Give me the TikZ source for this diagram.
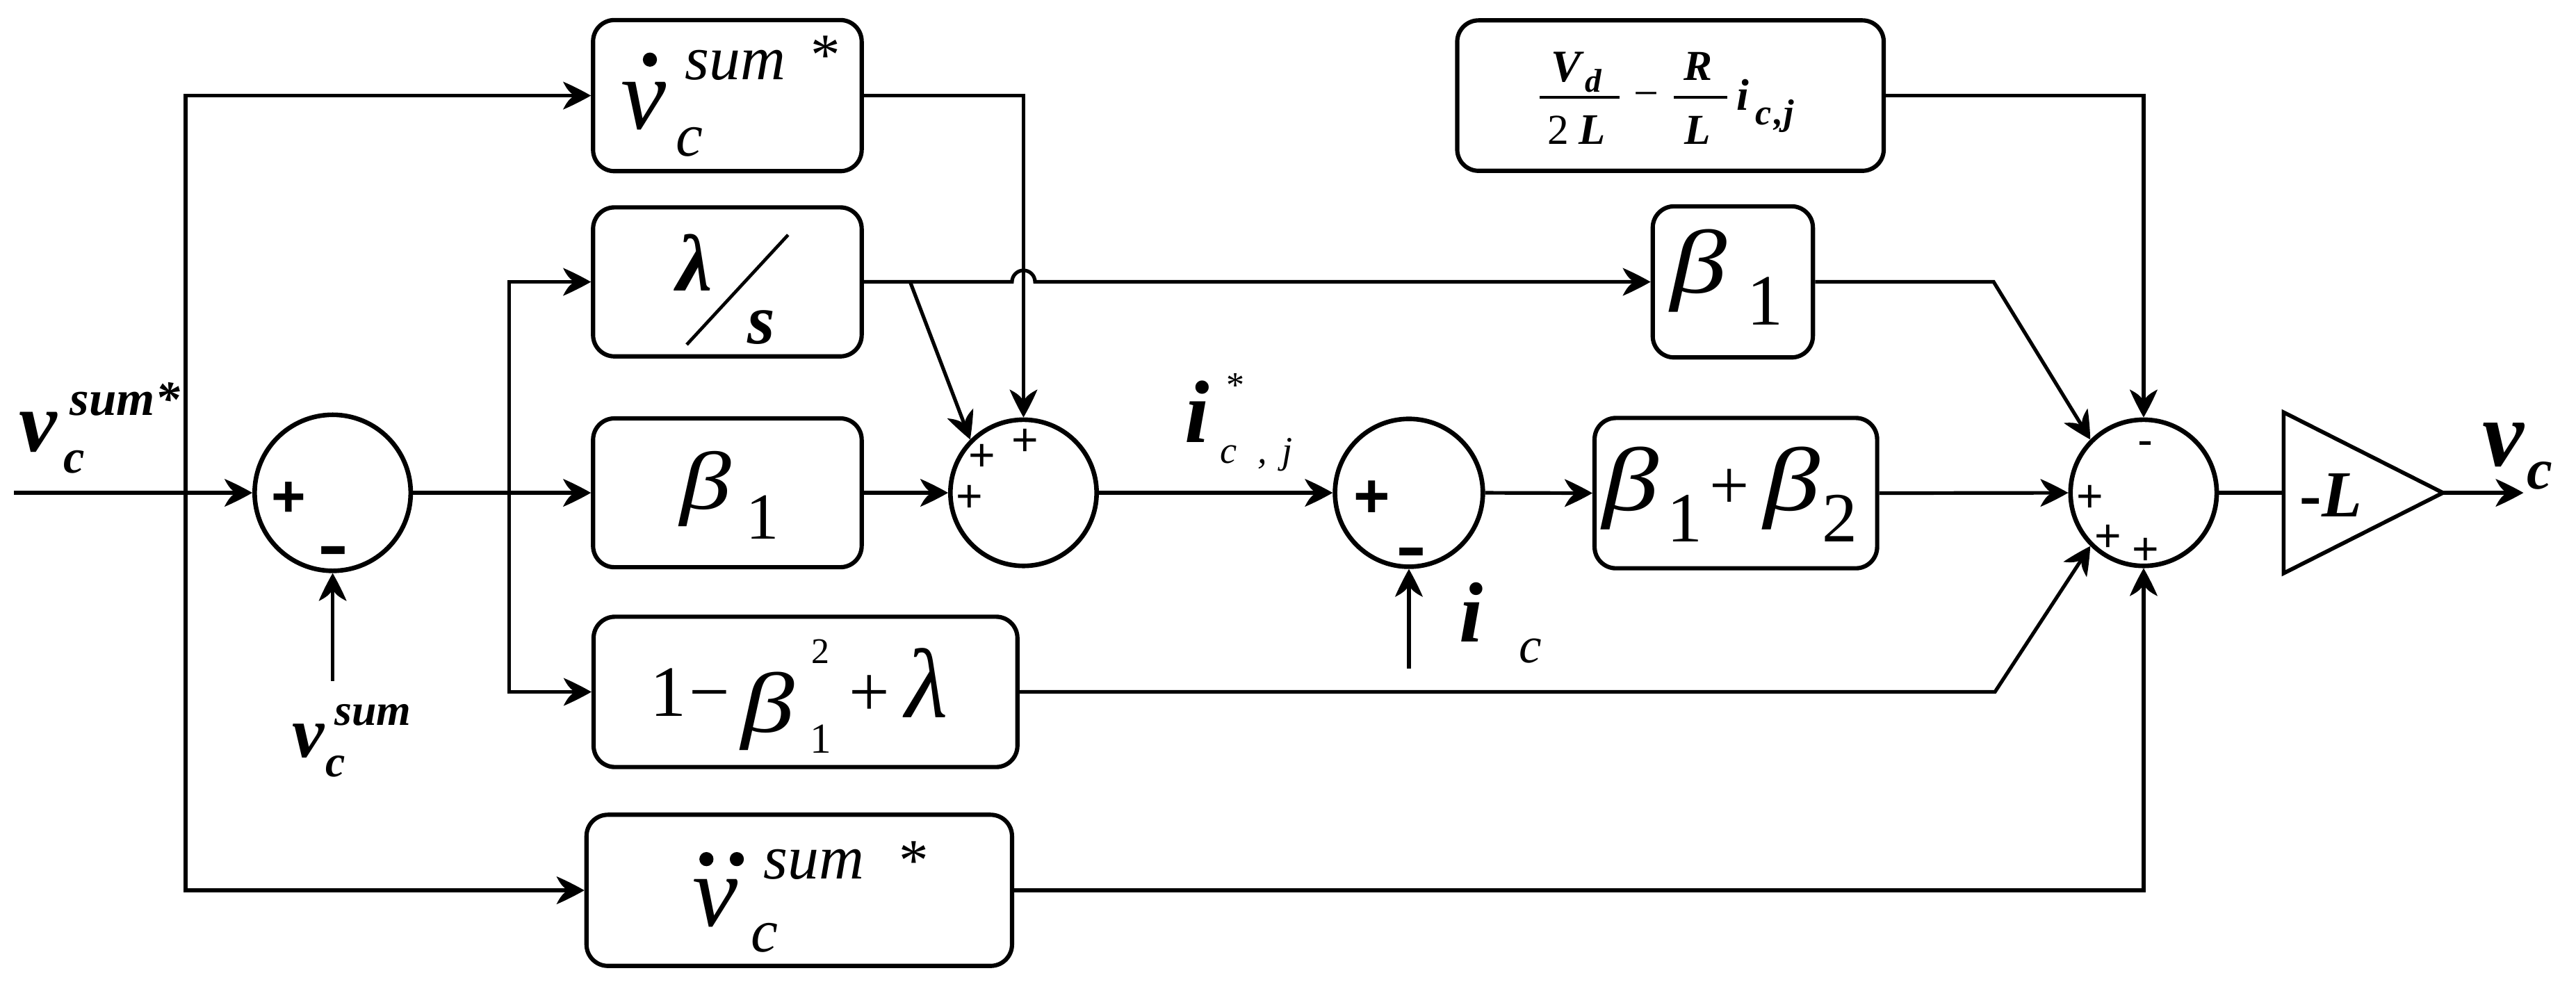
\documentclass[tikz,border=0pt]{standalone}
\usepackage{fontspec}
\usepackage{graphicx}
\setmainfont{Liberation Serif}
\newfontfamily\sansf{Liberation Sans}
\newcommand\FS[1]{\fontsize{#1}{#1}\selectfont}
\newcommand\BI{\bfseries\itshape}
\newcommand\IT{\itshape}
\newcommand\WB{\scalebox{1.25}[1]{β}}
\pgfdeclarearrow{
  name=Cusp,
  setup code={
    \pgfarrowssettipend{0pt}
    \pgfarrowssetbackend{-17pt}
    \pgfarrowssetlineend{-9pt}
  },
  drawing code={
    \pgfpathmoveto{\pgfpointorigin}
    \pgfpathcurveto{\pgfpoint{-6pt}{3.4pt}}{\pgfpoint{-12pt}{6.4pt}}{\pgfpoint{-17pt}{8.5pt}}
    \pgfpathcurveto{\pgfpoint{-15pt}{4.5pt}}{\pgfpoint{-12.5pt}{0.6pt}}{\pgfpoint{-9pt}{0pt}}
    \pgfpathcurveto{\pgfpoint{-12.5pt}{-0.6pt}}{\pgfpoint{-15pt}{-4.5pt}}{\pgfpoint{-17pt}{-8.5pt}}
    \pgfpathcurveto{\pgfpoint{-12pt}{-6.4pt}}{\pgfpoint{-6pt}{-3.4pt}}{\pgfpointorigin}
    \pgfpathclose
    \pgfusepathqfill
  }
}
\begin{document}
\begin{tikzpicture}[x=1pt,y=-1pt,line width=2.2pt,>=Cusp,
  blk/.style={draw,rounded corners=13pt,line width=2.6pt,inner sep=0pt},
  sumc/.style={draw,circle,line width=2.8pt,inner sep=0pt},
  txt/.style={inner sep=0pt,anchor=base west},
  sgn/.style={inner sep=0pt,anchor=base}]
\useasboundingbox (0,0) rectangle (1568,602);
% blocks
\node[blk,minimum width=163.5pt,minimum height=92pt] (bvd) at (442.75,58.2) {};
\node[blk,minimum width=163.5pt,minimum height=90.7pt] (bls) at (442.75,171.6) {};
\node[blk,minimum width=163.5pt,minimum height=90.6pt] (bb1) at (442.75,300) {};
\node[blk,minimum width=258pt,minimum height=91.5pt] (bob) at (490.3,421.2) {};
\node[blk,minimum width=259pt,minimum height=92pt] (bdd) at (486.5,542) {};
\node[blk,minimum width=259.6pt,minimum height=91.6pt] (bvl) at (1016.8,58.2) {};
\node[blk,minimum width=97.5pt,minimum height=92pt] (bbs) at (1054.75,171.6) {};
\node[blk,minimum width=172pt,minimum height=91.5pt] (bbb) at (1056.6,300.2) {};
% summing junctions
\node[sumc,minimum size=95pt] (c1) at (202.5,300) {};
\node[sumc,minimum size=89pt] (c2) at (623,300) {};
\node[sumc,minimum size=90pt] (c3) at (857.6,300) {};
\node[sumc,minimum size=89pt] (c4) at (1304.8,300) {};
% gain triangle
\draw[line width=2.4pt,line join=miter] (1390,251) -- (1487,300) -- (1390,349) -- cycle;
\coordinate (triL) at (1390,300);
\coordinate (triT) at (1487,300);
% free ends and bends
\coordinate (in) at (8.5,300);
\coordinate (j1) at (113,300);
\coordinate (vs) at (202.5,414.6);
\coordinate (j2) at (310,300);
\coordinate (ic) at (857.6,407);
\coordinate (out) at (1536,300);
\coordinate (k1) at (1213.5,171.6);
\coordinate (k2) at (1214.3,421.2);
\coordinate (js) at (554,171.6);
\coordinate (jp) at (616,171.6);
% connectors
\draw[->] (in) -- (c1.west);
\draw[->] (j1) |- (bvd.west);
\draw[->] (j1) |- (bdd.west);
\draw[->] (vs) -- (c1.south);
\draw[->] (c1.east) -- (bb1.west);
\draw[->] (j2) |- (bls.west);
\draw[->] (j2) |- (bob.west);
\draw[->] (bvd.east) -| (c2.north);
\draw[->] (bls.east) -- (jp) arc[start angle=180,end angle=0,radius=7pt] -- (bbs.west);
\draw[->] (js) -- (c2.135);
\draw[->] (bb1.east) -- (c2.west);
\draw[->] (c2.east) -- (c3.west);
\draw[->] (ic) -- (c3.south);
\draw[->] (c3.east) -- (bbb.west);
\draw[->] (bbb.east) -- (c4.west);
\draw[->] (bvl.east) -| (c4.north);
\draw[->] (bbs.east) -- (k1) -- (c4.135);
\draw[->] (bob.east) -- (k2) -- (c4.225);
\draw[->] (bdd.east) -| (c4.south);
\draw (c4.east) -- (triL);
\draw[->] (triT) -- (out);
% input label
\node[txt] (t1) at (10.4,275) {\FS{52}\BI v};
\node[txt] (t2) at (41.6,252.6) {\FS{30}\BI sum*};
\node[txt] (t3) at (37.7,288) {\FS{29}\BI c};
% feedback label
\node[txt] (t4) at (177,461) {\FS{44}\BI v};
\node[txt] (t5) at (202.7,441.4) {\FS{27}\BI sum};
\node[txt] (t6) at (197,472.6) {\FS{27}\BI c};
% vdot box
\node[txt] (t7) at (377,78.6) {\FS{62}\IT v};
\fill (395.6,36.3) circle[radius=4.3pt];
\node[txt] (t8) at (416,48.3) {\FS{38}\IT sum};
\node[txt] (t9) at (492.5,45.3) {\FS{36}*};
\node[txt] (t10) at (410.5,95) {\FS{37}\IT c};
% lambda/s box
\node[txt] (t11) at (410.7,177) {\FS{49}\BI λ};
\draw[line width=2pt] (418,209.8) -- (479.7,143);
\node[txt] (t12) at (454,209.4) {\FS{43}\BI s};
% beta1 middle
\node[txt] (t13) at (413,310) {\FS{50}\IT\WB};
\node[txt] (t14) at (453,328) {\FS{40}1};
% 1-beta^2+lambda
\node[txt] (t15) at (394.8,435.8) {\FS{44}1};
\node[txt] (t16) at (418.5,435.8) {\FS{44}−};
\node[txt] (t17) at (450,445.6) {\FS{52}\IT\WB};
\node[txt] (t18) at (493,404) {\FS{22}2};
\node[txt] (t19) at (492,458.6) {\FS{26}1};
\node[txt] (t20) at (515.7,436) {\FS{44}+};
\node[txt] (t21) at (550,436.7) {\FS{60}\IT λ};
% vddot box
\node[txt] (t22) at (420.6,563.6) {\FS{62}\IT v};
\fill (430,523) circle[radius=4.3pt];
\fill (448.5,523) circle[radius=4.3pt];
\node[txt] (t23) at (463.8,535) {\FS{38}\IT sum};
\node[txt] (t24) at (546,536) {\FS{36}*};
\node[txt] (t25) at (456,579.6) {\FS{37}\IT c};
% i*_{c,j}
\node[txt] (t26) at (720,269.4) {\FS{54}\BI i};
\node[txt] (t27) at (745.6,241.9) {\FS{22}*};
\node[txt] (t28) at (741.6,282) {\FS{23}\IT c};
\node[txt] (t29) at (764.6,282) {\FS{23}\IT ,};
\node[txt] (t30) at (779.4,282) {\FS{23}\IT j};
% i_c
\node[txt] (t31) at (887.3,390.7) {\FS{52}\BI i};
\node[txt] (t32) at (923.6,403.4) {\FS{31}\IT c};
% beta1 small
\node[txt] (t33) at (1016,178.4) {\FS{55}\IT\WB};
\node[txt] (t34) at (1062.5,197.7) {\FS{44}1};
% beta1+beta2
\node[txt] (t35) at (974.5,310.6) {\FS{55}\IT\WB};
\node[txt] (t36) at (1013.5,330) {\FS{43}1};
\node[txt] (t37) at (1039.5,310) {\FS{43}+};
\node[txt] (t38) at (1072.5,310.6) {\FS{55}\IT\WB};
\node[txt] (t39) at (1108,330) {\FS{43}2};
% Vd box
\node[txt] (t40) at (943,49.6) {\FS{27.5}\BI V};
\node[txt] (t41) at (963.7,56.2) {\FS{20}\BI d};
\draw[line width=1.6pt] (937.2,59.1) -- (985.8,59.1);
\node[txt] (t42) at (941,87.6) {\FS{26}2};
\node[txt] (t43) at (960,87.6) {\FS{26.5}\BI L};
\node[txt] (t44) at (993.5,65.9) {\FS{27}−};
\draw[line width=1.6pt] (1019,59.1) -- (1051.4,59.1);
\node[txt] (t45) at (1024,48.9) {\FS{26}\BI R};
\node[txt] (t46) at (1024.4,87.6) {\FS{26}\BI L};
\node[txt] (t47) at (1056,67) {\FS{27}\BI i};
\node[txt] (t48) at (1067.6,75.9) {\FS{22}\BI c};
\node[txt] (t49) at (1079,75.9) {\FS{22}\BI ,};
\node[txt] (t50) at (1084.6,75.9) {\FS{22}\BI j};
% gain
\node[txt] (t51) at (1398.8,314.4) {\FS{40}\bfseries -\textit{L}};
% output
\node[txt] (t52) at (1509.8,283.5) {\FS{57}\BI v};
\node[txt] (t53) at (1537,297.6) {\FS{35}\BI c};
% signs
\node[sgn] (s1) at (175.6,314.6) {\sansf\bfseries\FS{36}+};
\node[sgn] (s2) at (203,345.4) {\sansf\bfseries\FS{40}\scalebox{1.4}[1]{-}};
\node[sgn] (s3) at (835,315) {\sansf\bfseries\FS{38}+};
\node[sgn] (s4) at (859,346.4) {\sansf\bfseries\FS{40}\scalebox{1.4}[1]{-}};
\node[sgn] (s5) at (590.2,311.5) {\sansf\FS{28}+};
\node[sgn] (s6) at (597.7,286.8) {\sansf\FS{28}+};
\node[sgn] (s7) at (624,277.3) {\sansf\FS{28}+};
\node[sgn] (s8) at (1306,277.4) {\sansf\FS{28}-};
\node[sgn] (s9) at (1272,311.8) {\sansf\FS{28}+};
\node[sgn] (s10) at (1283,335.8) {\sansf\FS{28}+};
\node[sgn] (s11) at (1306,343.6) {\sansf\FS{28}+};
\end{tikzpicture}
\end{document}
